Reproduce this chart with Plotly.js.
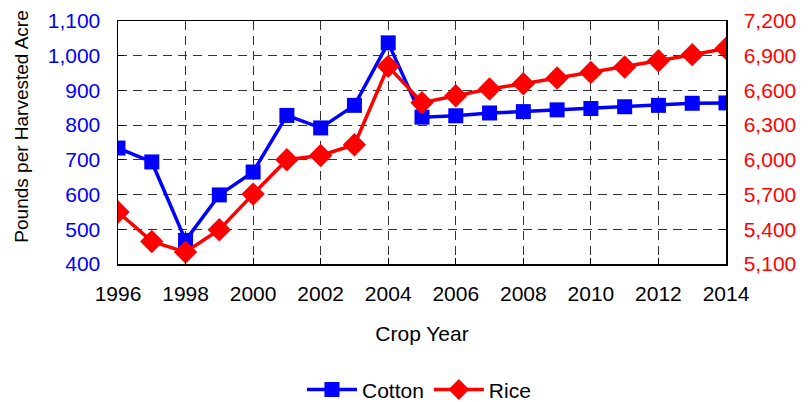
<!DOCTYPE html>
<html>
<head>
<meta charset="utf-8">
<script src="https://cdn.plot.ly/plotly-3.0.1.min.js"></script>
<style>html,body{margin:0;padding:0;background:#fff;}#chart{width:812px;height:402px;}</style>
</head>
<body>
<div id="chart"></div>
<script>
const years = [1996,1997,1998,1999,2000,2001,2002,2003,2004,2005,2006,2007,2008,2009,2010,2011,2012,2013,2014];
const cotton = [734,694,468,599,665,828,792,857,1037,823,827,835,839,844,848,853,857,863,864];
const rice = [5549,5295,5203,5396,5704,6001,6038,6131,6808,6494,6554,6612,6658,6707,6756,6802,6857,6909,6963];
const seriesNames = ["Cotton","Rice"];
const yTitle = "Pounds per Harvested Acre";
const xTitle = "Crop Year";

const FONT = '"Liberation Sans", Arial, sans-serif';
const GRID_DASH = '9px,6px';

const traces = [
  {x: years, y: cotton, name: seriesNames[0], type: 'scatter', mode: 'lines+markers',
   line: {color: '#0000FF', width: 3.5}, marker: {symbol: 'square', size: 15, color: '#0000FF'}, yaxis: 'y'},
  {x: years, y: rice, name: seriesNames[1], type: 'scatter', mode: 'lines+markers',
   line: {color: '#FF0000', width: 3.5}, marker: {symbol: 'diamond', size: 18, color: '#FF0000'}, yaxis: 'y2'}
];

const layout = {
  width: 812, height: 402,
  margin: {l: 118, r: 86, t: 21, b: 138, autoexpand: false},
  paper_bgcolor: '#fff', plot_bgcolor: '#fff',
  font: {family: FONT, size: 21, color: '#000'},
  showlegend: true,
  legend: {orientation: 'h', x: 0.495, xanchor: 'center', y: -0.518, yanchor: 'middle',
           font: {family: FONT, size: 21, color: '#000'}, itemwidth: 50, tracegroupgap: 0},
  xaxis: {range: [1996, 2014], dtick: 2, tick0: 1996, showline: true, linecolor: '#000', linewidth: 1.5,
          mirror: true, ticks: 'inside', ticklen: 6, tickcolor: '#000',
          showgrid: true, gridcolor: '#333', griddash: GRID_DASH, gridwidth: 1, zeroline: false,
          tickfont: {family: FONT, size: 21, color: '#000'}, ticklabelstandoff: 10,
          automargin: false,
          title: {text: xTitle, font: {family: FONT, size: 21, color: '#000'}, standoff: 22}},
  yaxis: {range: [400, 1100], dtick: 100, tickformat: ',d', showline: true, linecolor: '#000', linewidth: 1.5,
          ticks: 'inside', ticklen: 6, tickcolor: '#000', automargin: false,
          showgrid: true, gridcolor: '#333', griddash: GRID_DASH, gridwidth: 1, zeroline: false,
          tickfont: {family: FONT, size: 21, color: '#0000FF'}, ticklabelstandoff: 12},
  yaxis2: {range: [5100, 7200], dtick: 300, tickformat: ',d', overlaying: 'y', side: 'right',
           showline: true, linecolor: '#000', linewidth: 1.5, ticks: 'inside', ticklen: 6, tickcolor: '#000',
           showgrid: false, zeroline: false, automargin: false,
           tickfont: {family: FONT, size: 21, color: '#FF0000'}, ticklabelstandoff: 12},
  annotations: [
    {text: yTitle, xref: 'paper', yref: 'paper', x: -0.158, y: 0.565, xanchor: 'center', yanchor: 'middle',
     textangle: -90, showarrow: false, font: {family: FONT, size: 19, color: '#000'}}
  ]
};

Plotly.newPlot('chart', traces, layout, {displayModeBar: false, staticPlot: true});
</script>
</body>
</html>
